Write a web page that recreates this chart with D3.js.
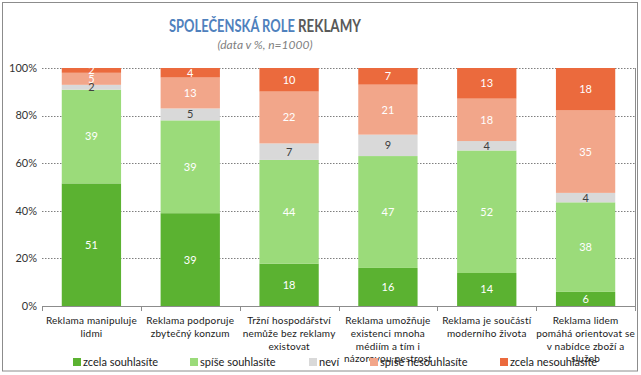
<!DOCTYPE html>
<html>
<head>
<meta charset="utf-8">
<script src="https://cdn.jsdelivr.net/npm/d3@7"></script>
<style>
  body { margin: 0; background: #fff; }
  svg { font-family: Lato, "Open Sans", sans-serif; }
</style>
</head>
<body>
<svg id="chart" width="641" height="375"></svg>
<script>
// categories (wrapped as in the original)
const categories = [
  ["Reklama manipuluje", "lidmi"],
  ["Reklama podporuje", "zbytečný konzum"],
  ["Tržní hospodářství", "nemůže bez reklamy", "existovat"],
  ["Reklama umožňuje", "existenci mnoha", "médiím a tím i", "názorovou pestrost"],
  ["Reklama je součástí", "moderního života"],
  ["Reklama lidem", "pomáhá orientovat se", "v nabídce zboží a", "služeb"]
];
const seriesNames = ["zcela souhlasíte", "spíše souhlasíte", "neví", "spíše nesouhlasíte", "zcela nesouhlasíte"];
const zcelaSouhlasite = [51, 39, 18, 16, 14, 6];
const spiseSouhlasite = [39, 39, 44, 47, 52, 38];
const nevi = [2, 5, 7, 9, 4, 4];
const spiseNesouhlasite = [5, 13, 22, 21, 18, 35];
const zcelaNesouhlasite = [2, 4, 10, 7, 13, 18];
const yTicks = [0, 20, 40, 60, 80, 100];

const colors = ["#5bb231", "#9bdb7a", "#d9d9d9", "#f2a68a", "#eb6a3d"];
const labelColors = ["#fff", "#fff", "#404040", "#fff", "#fff"];

const margin = { top: 68, right: 6, bottom: 69, left: 42 };
const W = 641, H = 375;
const width = W - margin.left - margin.right;
const height = H - margin.top - margin.bottom;

const svg = d3.select("#chart");

// outer border
svg.append("rect")
    .attr("x", 2.5).attr("y", 2.5)
    .attr("width", 635).attr("height", 368.5)
    .attr("fill", "none").attr("stroke", "#8c8c8c");

// title, two parts in two colours, squeezed horizontally to the original width
function titlePart(txt, x0, w, fill) {
    const t = svg.append("text")
        .attr("fill", fill)
        .style("font-size", "17px").style("font-weight", "bold")
        .text(txt);
    const sx = w / t.node().getComputedTextLength();
    t.attr("transform", "translate(" + x0 + ",32) scale(" + sx + ",1)");
}
titlePart("SPOLEČENSKÁ ROLE", 169, 126, "#4f81bd");
titlePart("REKLAMY", 298, 63, "#595959");

svg.append("text")
    .attr("x", 265).attr("y", 49)
    .attr("text-anchor", "middle")
    .attr("fill", "#7f7f7f")
    .style("font-size", "12px").style("font-style", "italic")
    .text("(data v %, n=1000)");

// build rows for stack
const seriesValues = [zcelaSouhlasite, spiseSouhlasite, nevi, spiseNesouhlasite, zcelaNesouhlasite];
const rows = categories.map(function(c, i) {
    const row = { idx: i };
    seriesNames.forEach(function(s, j) { row[s] = seriesValues[j][i]; });
    return row;
});

const stack = d3.stack().keys(seriesNames).offset(d3.stackOffsetExpand);
const stacked = stack(rows);

const x = d3.scaleBand()
    .domain(d3.range(categories.length))
    .range([0, width])
    .paddingInner(0.4)
    .paddingOuter(0.2);

const y = d3.scaleLinear().domain([0, 1]).range([height, 0]);

const g = svg.append("g")
    .attr("transform", "translate(" + margin.left + "," + margin.top + ")");

// grid lines
g.selectAll(".grid")
    .data(yTicks.filter(function(t) { return t > 0; }))
    .enter().append("line")
    .attr("x1", 0).attr("x2", width)
    .attr("y1", function(d) { return Math.round(y(d / 100)) + 0.5; })
    .attr("y2", function(d) { return Math.round(y(d / 100)) + 0.5; })
    .attr("stroke", "#7f7f7f")
    .attr("stroke-dasharray", "1.5,1.5");

// y labels
g.selectAll(".ylab")
    .data(yTicks)
    .enter().append("text")
    .attr("x", -5)
    .attr("y", function(d) { return y(d / 100); })
    .attr("dy", "0.35em")
    .attr("text-anchor", "end")
    .attr("fill", "#333")
    .style("font-size", "11px")
    .text(function(d) { return d + "%"; });

// bars
const layers = g.selectAll(".layer")
    .data(stacked)
    .enter().append("g")
    .attr("fill", function(d, i) { return colors[i]; });

layers.selectAll("rect")
    .data(function(d) { return d; })
    .enter().append("rect")
    .attr("x", function(d) { return x(d.data.idx); })
    .attr("width", x.bandwidth())
    .attr("y", function(d) { return y(d[1]); })
    .attr("height", function(d) { return y(d[0]) - y(d[1]); });

// data labels
stacked.forEach(function(layer, i) {
    g.selectAll(".lab" + i)
        .data(layer)
        .enter().append("text")
        .attr("x", function(d) { return x(d.data.idx) + x.bandwidth() / 2; })
        .attr("y", function(d) { return (y(d[0]) + y(d[1])) / 2; })
        .attr("dy", "0.36em")
        .attr("text-anchor", "middle")
        .attr("fill", labelColors[i])
        .style("font-size", "11px")
        .text(function(d) { return d.data[layer.key]; });
});

// axes lines
g.append("line")
    .attr("x1", 0).attr("x2", width)
    .attr("y1", height + 0.5).attr("y2", height + 0.5)
    .attr("stroke", "#8c8c8c");
g.append("line")
    .attr("x1", width + 0.5).attr("x2", width + 0.5)
    .attr("y1", 0).attr("y2", height)
    .attr("stroke", "#8c8c8c");

const step = x.step();
g.selectAll(".tick")
    .data(d3.range(categories.length + 1))
    .enter().append("line")
    .attr("x1", function(d) { return Math.round(d * step) + 0.5; })
    .attr("x2", function(d) { return Math.round(d * step) + 0.5; })
    .attr("y1", height).attr("y2", height + 5)
    .attr("stroke", "#8c8c8c");

// category labels
const catLab = g.selectAll(".cat")
    .data(categories)
    .enter().append("text")
    .attr("text-anchor", "middle")
    .attr("fill", "#1a1a1a")
    .style("font-size", "10px")
    .style("letter-spacing", "0.2px")
    .attr("transform", function(d, i) {
        return "translate(" + (x(i) + x.bandwidth() / 2) + "," + (height + 18) + ")";
    });
catLab.selectAll("tspan")
    .data(function(d) { return d; })
    .enter().append("tspan")
    .attr("x", 0)
    .attr("y", function(d, i) { return i * 12.8; })
    .text(function(d) { return d; });

// legend
const legendX = [73, 190, 309, 370, 500];
const legend = svg.selectAll(".leg")
    .data(seriesNames)
    .enter().append("g")
    .attr("transform", function(d, i) { return "translate(" + legendX[i] + ",358)"; });
legend.append("rect")
    .attr("width", 8).attr("height", 8)
    .attr("fill", function(d, i) { return colors[i]; });
legend.append("text")
    .attr("x", 10).attr("y", 4)
    .attr("dy", "0.36em")
    .attr("fill", "#1a1a1a")
    .style("font-size", "11px")
    .text(function(d) { return d; });
</script>
</body>
</html>
